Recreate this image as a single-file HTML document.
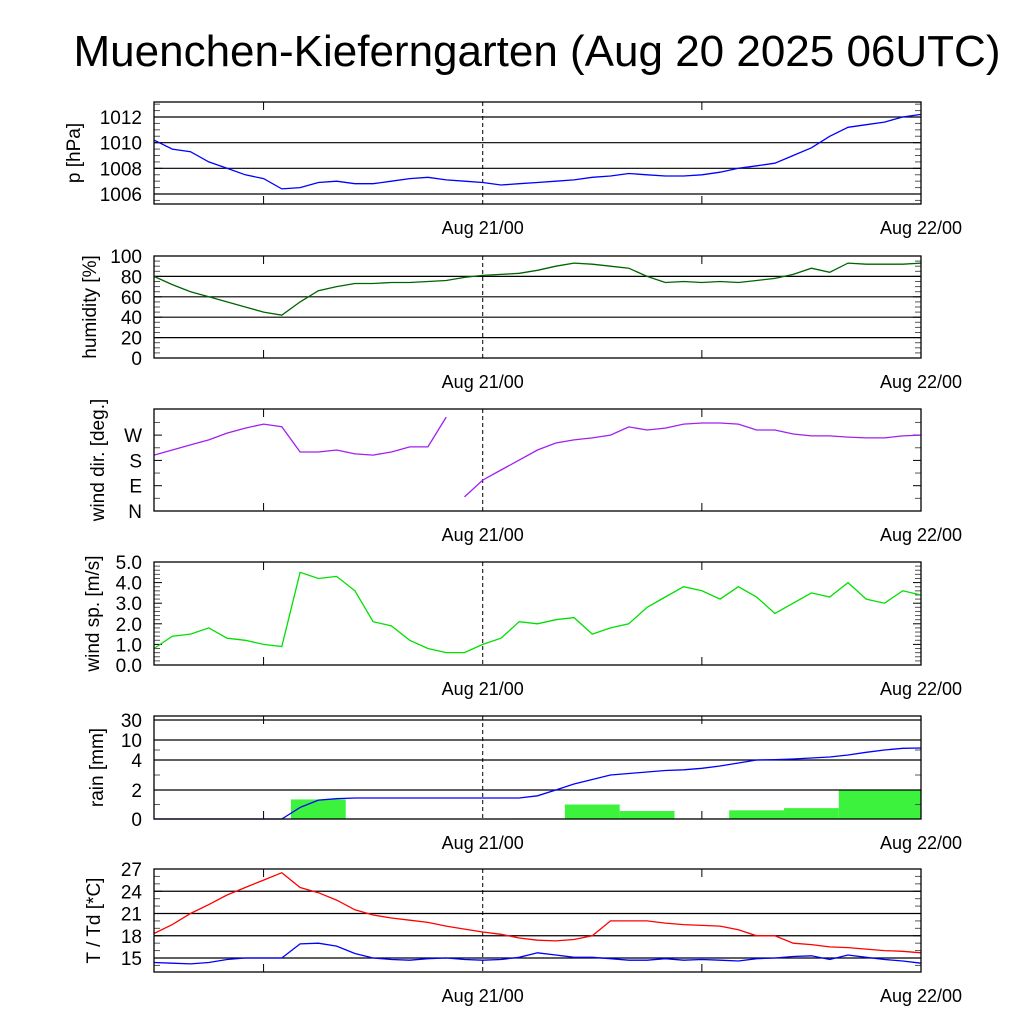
<!DOCTYPE html>
<html><head><meta charset="utf-8"><style>
body{margin:0;background:#fff}
svg{display:block;font-family:"Liberation Sans",sans-serif}
</style></head><body>
<svg id="c" width="1024" height="1024" viewBox="0 0 1024 1024">
<text x="537" y="66" font-size="44" text-anchor="middle">Muenchen-Kieferngarten (Aug 20 2025 06UTC)</text>
</svg>
<script>
const hours=[0,1,2,3,4,5,6,7,8,9,10,11,12,13,14,15,16,17,18,19,20,21,22,23,24,25,26,27,28,29,30,31,32,33,34,35,36,37,38,39,40,41,42];
const pressure=[1010.2,1009.5,1009.3,1008.5,1008,1007.5,1007.2,1006.4,1006.5,1006.9,1007,1006.8,1006.8,1007,1007.2,1007.3,1007.1,1007,1006.9,1006.7,1006.8,1006.9,1007,1007.1,1007.3,1007.4,1007.6,1007.5,1007.4,1007.4,1007.5,1007.7,1008,1008.2,1008.4,1009,1009.6,1010.5,1011.2,1011.4,1011.6,1012,1012.2];
const humidity=[80,72,65,60,55,50,45,42,55,66,70,73,73,74,74,75,76,79,81,82,83,86,90,93,92,90,88,80,74,75,74,75,74,76,78,82,88,84,93,92,92,92,93];
const windDir=[199,217,235,253,277,295,309,300,210,210,217,203,199,210,228,228,334,50,110,146,181,217,242,253,260,270,299,288,295,309,313,313,309,288,288,274,267,267,263,260,260,267,270];
const windSpeed=[0.8,1.4,1.5,1.8,1.3,1.2,1.0,0.9,4.5,4.2,4.3,3.6,2.1,1.9,1.2,0.8,0.6,0.6,1.0,1.3,2.1,2.0,2.2,2.3,1.5,1.8,2.0,2.8,3.3,3.8,3.6,3.2,3.8,3.3,2.5,3.0,3.5,3.3,4.0,3.2,3.0,3.6,3.4];
const rainCum=[0,0,0,0,0,0,0,0,0.8,1.3,1.4,1.45,1.45,1.45,1.45,1.45,1.45,1.45,1.45,1.45,1.45,1.6,2.0,2.4,2.7,3.0,3.1,3.2,3.3,3.35,3.45,3.6,3.8,4.0,4.1,4.3,4.6,4.9,5.5,6.3,7.0,7.5,7.6];
const rainBinStart=[7.5,10.5,13.5,16.5,19.5,22.5,25.5,28.5,31.5,34.5,37.5];
const rainBinEnd=[10.5,13.5,16.5,19.5,22.5,25.5,28.5,31.5,34.5,37.5,42];
const rainBin=[1.35,0.04,0,0,0.04,1.0,0.55,0.04,0.6,0.75,2.0];
const temp=[18.3,19.5,21,22.2,23.5,24.5,25.5,26.5,24.5,23.8,22.8,21.5,20.8,20.4,20.1,19.8,19.3,18.9,18.5,18.2,17.7,17.4,17.3,17.5,18,20,20,20,19.7,19.5,19.4,19.3,18.8,18.0,18.0,17,16.8,16.5,16.4,16.2,16.0,15.9,15.7];
const dew=[14.4,14.3,14.2,14.4,14.8,15,15,15,16.9,17,16.6,15.6,15,14.8,14.7,14.9,15,14.8,14.7,14.8,15.1,15.7,15.4,15.1,15.1,14.9,14.7,14.7,14.9,14.7,14.8,14.7,14.6,14.9,15,15.2,15.3,14.8,15.4,15.1,14.8,14.6,14.3];
const xLabels=["Aug 21/00","Aug 22/00"];
const xLabelHours=[18,42];

const NS="http://www.w3.org/2000/svg";
const svg=document.getElementById('c');
const X0=154,X1=921;
const xs=h=>X0+h*(X1-X0)/42;
function el(t,a,p){const e=document.createElementNS(NS,t);for(const k in a)e.setAttribute(k,a[k]);(p||svg).appendChild(e);return e;}
function lin(d0,d1,y0,y1){return v=>y0+(v-d0)*(y1-y0)/(d1-d0);}
function pw(ds,ys){return v=>{for(let i=0;i<ds.length-1;i++){if(v<=ds[i+1]||i==ds.length-2){return ys[i]+(v-ds[i])*(ys[i+1]-ys[i])/(ds[i+1]-ds[i]);}}};}

const panels=[
 {name:'pressure',top:102,bot:204,lx:80,label:'p [hPa]',ticks:[1006,1008,1010,1012],tl:['1006','1008','1010','1012'],grid:true,minor:[1005.5,1006.5,1007,1007.5,1008.5,1009,1009.5,1010.5,1011,1011.5,1012.5,1013],y:lin(1006,1012,194,117)},
 {name:'humidity',top:256,bot:358,lx:96,label:'humidity [%]',ticks:[0,20,40,60,80,100],tl:['0','20','40','60','80','100'],grid:true,minor:[5,10,15,25,30,35,45,50,55,65,70,75,85,90,95],y:lin(0,100,358,256)},
 {name:'wind-direction',top:409,bot:511,lx:104,label:'wind dir. [deg.]',ticks:[0,90,180,270],tl:['N','E','S','W'],grid:false,minor:[45,135,225,315],y:lin(0,90,511,485.7)},
 {name:'wind-speed',top:562,bot:665,lx:99,label:'wind sp. [m/s]',ticks:[0,1,2,3,4,5],tl:['0.0','1.0','2.0','3.0','4.0','5.0'],grid:false,minor:[0.2,0.4,0.6,0.8,1.2,1.4,1.6,1.8,2.2,2.4,2.6,2.8,3.2,3.4,3.6,3.8,4.2,4.4,4.6,4.8],y:lin(0,5,665,562)},
 {name:'rain',top:716,bot:819,lx:103,label:'rain [mm]',ticks:[0,2,4,10,30],tl:['0','2','4','10','30'],grid:true,minor:[1,3,7],y:pw([0,2,4,10,30,40],[819,790,760,740,720,716])},
 {name:'temperature',top:869,bot:972,lx:100,label:'T / Td [*C]',ticks:[15,18,21,24,27],tl:['15','18','21','24','27'],grid:true,minor:[14,16,17,19,20,22,23,25,26],y:lin(15,27,958,869)}
];

function line(vals,y,color,name,g,wrap){
  let d='',prev=null;
  vals.forEach((v,i)=>{const px=xs(hours[i]),py=y(v);
    const brk=prev===null||(wrap&&Math.abs(v-prev)>180);
    d+=(brk?'M':'L')+px.toFixed(1)+' '+py.toFixed(1);prev=v;});
  const p=el('path',{d:d,fill:'none',stroke:color,'stroke-width':1.3},g);
  
  
}

panels.forEach(P=>{
  const g=el('g',{});
  
  
  if(P.name==='rain'){
    rainBin.forEach((v,i)=>{if(v<=0)return;const x0=xs(rainBinStart[i]),x1=xs(rainBinEnd[i]),yy=P.y(v);
      const r=el('rect',{x:x0,y:yy,width:x1-x0,height:P.bot-yy,fill:'#3df23d'},g);
      
      });
  }
  if(P.grid)P.ticks.forEach(t=>{const yy=P.y(t);if(yy>P.top+1&&yy<P.bot-1)el('line',{x1:X0,x2:X1,y1:yy,y2:yy,stroke:'#000','stroke-width':1.2},g);});
  P.ticks.forEach((t,i)=>{const yy=P.y(t);
    el('line',{x1:X0,x2:X0+8,y1:yy,y2:yy,stroke:'#000'},g);el('line',{x1:X1-8,x2:X1,y1:yy,y2:yy,stroke:'#000'},g);
    const tx=el('text',{x:142,y:yy+7,'font-size':19,'text-anchor':'end'},g);tx.textContent=P.tl[i];
    
    });
  P.minor.forEach(t=>{const yy=P.y(t);if(yy<P.top||yy>P.bot)return;
    el('line',{x1:X0,x2:X0+6,y1:yy,y2:yy,stroke:'#555'},g);el('line',{x1:X1-6,x2:X1,y1:yy,y2:yy,stroke:'#555'},g);});
  el('line',{x1:xs(18),x2:xs(18),y1:P.top,y2:P.bot,stroke:'#000','stroke-dasharray':'4,3'},g);
  [6,30].forEach(h=>{el('line',{x1:xs(h),x2:xs(h),y1:P.bot-8,y2:P.bot,stroke:'#000'},g);el('line',{x1:xs(h),x2:xs(h),y1:P.top,y2:P.top+8,stroke:'#000'},g);});
  xLabels.forEach((l,i)=>{const t=el('text',{x:xs(xLabelHours[i]),y:P.bot+30,'font-size':18,'text-anchor':'middle'},g);t.textContent=l;
    
    });
  const cy=(P.top+P.bot)/2;
  const yl=el('text',{x:0,y:0,'font-size':19,'text-anchor':'middle',transform:`translate(${P.lx},${cy}) rotate(-90)`},g);yl.textContent=P.label;
  
  
  P.g=g;
});
line(pressure,panels[0].y,'#0000ff','pressure-line',panels[0].g);
line(humidity,panels[1].y,'#006400','humidity-line',panels[1].g);
line(windDir,panels[2].y,'#a020f0','wind-direction-line',panels[2].g,true);
line(windSpeed,panels[3].y,'#00e000','wind-speed-line',panels[3].g);
line(rainCum,panels[4].y,'#0000ff','rain-cumulative-line',panels[4].g);
line(temp,panels[5].y,'#ff0000','temperature-line',panels[5].g);
line(dew,panels[5].y,'#0000ff','dewpoint-line',panels[5].g);
panels.forEach(P=>{el('rect',{x:X0,y:P.top,width:X1-X0,height:P.bot-P.top,fill:'none',stroke:'#000','stroke-width':1.3},P.g);});
</script>
</body></html>
